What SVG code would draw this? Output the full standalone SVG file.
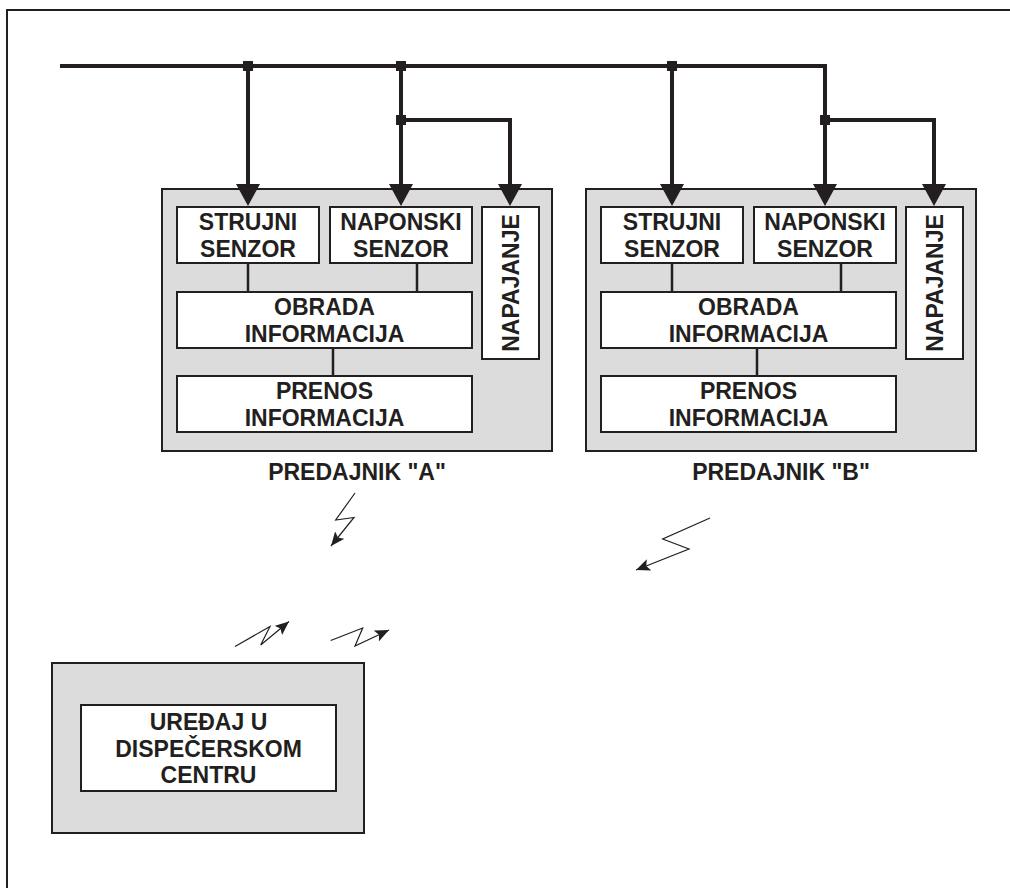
<svg xmlns="http://www.w3.org/2000/svg" width="1010" height="888" viewBox="0 0 1010 888">
<style>
.frame{fill:none;stroke:#231f20;stroke-width:2}
.grey{fill:#dcdcdc;stroke:#231f20;stroke-width:2}
.box{fill:#ffffff;stroke:#231f20;stroke-width:2}
.t{font-family:"Liberation Sans",Arial,sans-serif;font-weight:bold;font-size:23px;fill:#231f20;text-anchor:middle}
.bus{fill:none;stroke:#231f20;stroke-width:4}
.link{fill:none;stroke:#231f20;stroke-width:2.5}
.bolt{fill:none;stroke:#231f20;stroke-width:1.2}
.dot{fill:#231f20}
</style>
<defs>
<marker id="big" markerUnits="userSpaceOnUse" markerWidth="24" markerHeight="24" refX="12" refY="12" orient="auto">
<path d="M0,0 L22,12 L0,24 z" fill="#231f20"/>
</marker>
<marker id="small" markerUnits="userSpaceOnUse" markerWidth="15" markerHeight="12" refX="14" refY="6" orient="auto">
<path d="M0,0 L14,6 L0,12 L3,6 z" fill="#231f20"/>
</marker>
</defs>
<rect class="frame" x="7" y="10" width="1010" height="900"/>
<g id="predajnik-a">
<rect class="grey" x="162" y="189" width="390" height="262"/>
<g id="a-strujni"><rect class="box" x="177" y="207" width="142" height="56"/><text class="t" x="248" y="230">STRUJNI</text><text class="t" x="248" y="257">SENZOR</text></g>
<g id="a-naponski"><rect class="box" x="330" y="207" width="142" height="56"/><text class="t" x="401" y="230">NAPONSKI</text><text class="t" x="401" y="257">SENZOR</text></g>
<g id="a-napajanje"><rect class="box" x="482" y="207" width="57" height="152"/><text class="t" transform="translate(519,283) rotate(-90)">NAPAJANJE</text></g>
<g id="a-obrada"><rect class="box" x="177" y="292" width="295" height="56"/><text class="t" x="324.5" y="315">OBRADA</text><text class="t" x="324.5" y="342">INFORMACIJA</text></g>
<g id="a-prenos"><rect class="box" x="177" y="376" width="295" height="56"/><text class="t" x="324.5" y="399">PRENOS</text><text class="t" x="324.5" y="426">INFORMACIJA</text></g>
<text class="t" x="357" y="480">PREDAJNIK "A"</text>
</g>
<g id="predajnik-b">
<rect class="grey" x="586" y="189" width="390" height="262"/>
<g id="b-strujni"><rect class="box" x="601" y="207" width="142" height="56"/><text class="t" x="672" y="230">STRUJNI</text><text class="t" x="672" y="257">SENZOR</text></g>
<g id="b-naponski"><rect class="box" x="754" y="207" width="142" height="56"/><text class="t" x="825" y="230">NAPONSKI</text><text class="t" x="825" y="257">SENZOR</text></g>
<g id="b-napajanje"><rect class="box" x="906" y="207" width="57" height="152"/><text class="t" transform="translate(943,283) rotate(-90)">NAPAJANJE</text></g>
<g id="b-obrada"><rect class="box" x="601" y="292" width="295" height="56"/><text class="t" x="748.5" y="315">OBRADA</text><text class="t" x="748.5" y="342">INFORMACIJA</text></g>
<g id="b-prenos"><rect class="box" x="601" y="376" width="295" height="56"/><text class="t" x="748.5" y="399">PRENOS</text><text class="t" x="748.5" y="426">INFORMACIJA</text></g>
<text class="t" x="781" y="480">PREDAJNIK "B"</text>
</g>
<g id="dispecerski-centar">
<rect class="grey" x="52" y="663" width="312" height="170"/>
<rect class="box" x="81" y="705" width="255" height="86"/>
<text class="t" x="208.5" y="730">UREĐAJ U</text>
<text class="t" x="208.5" y="757">DISPEČERSKOM</text>
<text class="t" x="208.5" y="783">CENTRU</text>
</g>
<g id="connectors">
<path class="bus" d="M60,66 H825 V196" marker-end="url(#big)"/>
<path class="bus" d="M248,66 V196" marker-end="url(#big)"/>
<path class="bus" d="M401,66 V196" marker-end="url(#big)"/>
<path class="bus" d="M401,120 H510 V196" marker-end="url(#big)"/>
<path class="bus" d="M672,66 V196" marker-end="url(#big)"/>
<path class="bus" d="M825,120 H934 V196" marker-end="url(#big)"/>
<rect class="dot" x="243" y="61" width="10" height="10"/>
<rect class="dot" x="396" y="61" width="10" height="10"/>
<rect class="dot" x="667" y="61" width="10" height="10"/>
<rect class="dot" x="396" y="115" width="10" height="10"/>
<rect class="dot" x="820" y="115" width="10" height="10"/>
<path class="link" d="M248,263 V292 M417,263 V292 M333,348 V376"/>
<path class="link" d="M672,263 V292 M841,263 V292 M757,348 V376"/>
<path class="bolt" d="M355,493 L335.7,520 L354,517.5 L331,546" marker-end="url(#small)"/>
<path class="bolt" d="M710,518 L662.7,539 L689,549 L636,570" marker-end="url(#small)"/>
<path class="bolt" d="M235,646.5 L270,626.5 L260.7,645 L289,621.5" marker-end="url(#small)"/>
<path class="bolt" d="M330.7,640.5 L362.7,628 L355,646 L389,630" marker-end="url(#small)"/>
</g>
</svg>
